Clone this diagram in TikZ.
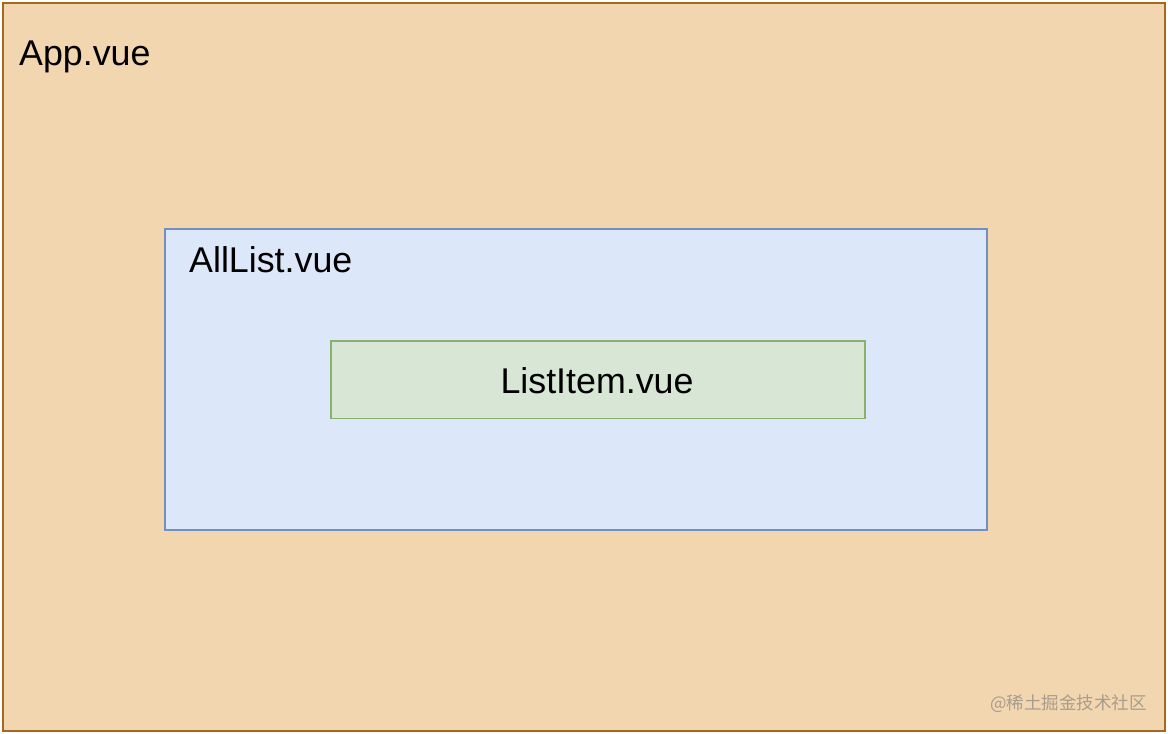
\documentclass[tikz,border=0pt]{standalone}
\usepackage{fontspec}
\setmainfont{Liberation Sans}
\newfontfamily\cjk{Noto Sans CJK SC}
\definecolor{appfill}{HTML}{F2D6B0}
\definecolor{appdraw}{HTML}{A8671E}
\definecolor{listfill}{HTML}{DCE7FA}
\definecolor{listdraw}{HTML}{7390C0}
\definecolor{itemfill}{HTML}{D7E6D5}
\definecolor{itemdraw}{HTML}{8AB06E}
\definecolor{wm}{HTML}{A89C8C}
\begin{document}
\begin{tikzpicture}[x=1pt,y=-1pt,
  box/.style={line width=1.6pt},
  lbl/.style={inner sep=0pt,anchor=base west,font=\fontsize{35.8}{40}\selectfont}]
\useasboundingbox (0,0) rectangle (1168,734);
\fill[white] (0,0) rectangle (1168,734);
\draw[box,fill=appfill,draw=appdraw,line width=2pt] (3,3) rectangle (1165,731);
\node[lbl] (app) at (19,65) {App.vue};
\draw[box,fill=listfill,draw=listdraw] (165,229) rectangle (987,530);
\node[lbl] (alllist) at (189,272) {AllList.vue};
\draw[box,fill=itemfill,draw=itemdraw] (331,341) rectangle (865,418.5);
\node[inner sep=0pt,font=\fontsize{35.8}{40}\selectfont] (item) at (597,381) {ListItem.vue};
\node[inner sep=0pt,anchor=base east,text=wm,font=\cjk\fontsize{17.5}{20}\selectfont] (wm) at (1147,709) {@稀土掘金技术社区};
\end{tikzpicture}
\end{document}
